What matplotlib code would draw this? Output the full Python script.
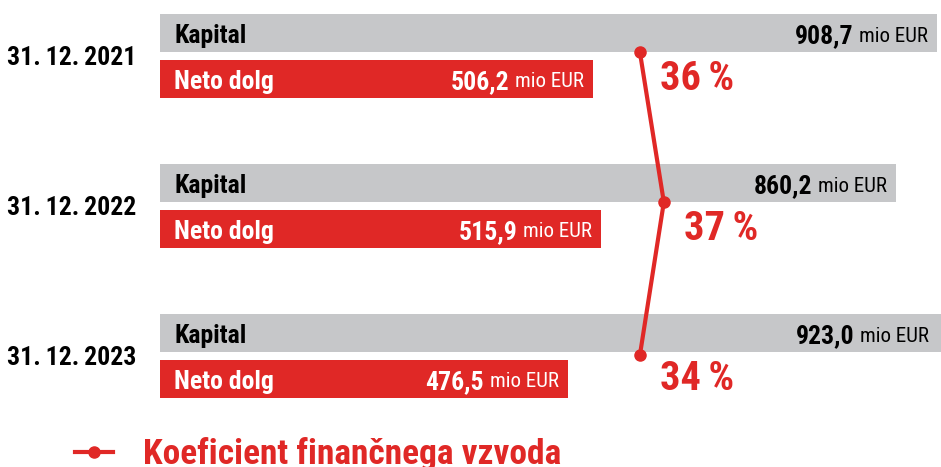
import matplotlib.pyplot as plt

# Podatki
datumi = ['31.\u200912.\u20092021', '31.\u200912.\u20092022', '31.\u200912.\u20092023']
kapital = [908.7, 860.2, 923.0]
neto_dolg = [506.2, 515.9, 476.5]
koeficient = [36, 37, 34]
# polozaj tock koeficienta na osi (mio EUR), odcitano s slike
koef_x = [561, 589, 561]

SIVA = '#C6C7C9'
RDECA = '#E02826'
FONT = ['Roboto Condensed', 'DejaVu Sans']

plt.rcParams['font.family'] = FONT


def fmt(v):
    return f"{v:.1f}".replace('.', ',')


fig = plt.figure(figsize=(9.41, 4.67), dpi=100)
ax = fig.add_axes([160 / 941, 0, 781 / 941, 1])
ax.set_xlim(0, 913)
ax.set_ylim(2.74, -0.373)
ax.axis('off')

h = 0.255
off = 0.153
y_kap = [i - off for i in range(len(datumi))]
y_dolg = [i + off for i in range(len(datumi))]

ax.barh(y_kap, kapital, height=h, color=SIVA)
ax.barh(y_dolg, neto_dolg, height=h, color=RDECA)

# Crta koeficienta
y_tocke = [y + h / 2 for y in y_kap]
y_tocke[-1] += 0.02
ax.plot(koef_x, y_tocke, color=RDECA, lw=3, marker='o', ms=8,
        label='Koeficient finančnega vzvoda', clip_on=False, zorder=5)

fig.canvas.draw()
renderer = fig.canvas.get_renderer()


def vrednost(x, y, v, barva):
    t = ax.annotate('mio EUR', (x, y), xytext=(-9, -3), textcoords='offset pixels',
                    ha='right', va='center', fontsize=15, color=barva)
    w = t.get_window_extent(renderer).width
    ax.annotate(fmt(v), (x, y), xytext=(-9 - w - 6, -3), textcoords='offset pixels',
                ha='right', va='center', fontsize=18.5, fontweight='bold', color=barva)


for i, d in enumerate(datumi):
    ax.annotate(d, (0, i), xytext=(-24, -2), textcoords='offset pixels',
                ha='right', va='center', fontsize=18.5, fontweight='bold', color='black')
    ax.annotate('Kapital', (0, y_kap[i]), xytext=(14, -3), textcoords='offset pixels',
                ha='left', va='center', fontsize=18.5, fontweight='bold', color='black')
    ax.annotate('Neto dolg', (0, y_dolg[i]), xytext=(14, -3), textcoords='offset pixels',
                ha='left', va='center', fontsize=18.5, fontweight='bold', color='white')
    vrednost(min(kapital[i], ax.get_xlim()[1] - 3), y_kap[i], kapital[i], 'black')
    vrednost(neto_dolg[i], y_dolg[i], neto_dolg[i], 'white')
    ax.annotate(f"{koeficient[i]}\u2009%", (koef_x[i], y_dolg[i]), xytext=(20, 0),
                textcoords='offset pixels', ha='left', va='center',
                fontsize=29, fontweight='bold', color=RDECA)

# Legenda
leg = ax.legend(loc='center left', bbox_to_anchor=(75 / 941, 13 / 467),
                bbox_transform=fig.transFigure, frameon=False,
                handlelength=1.07, handletextpad=0.85, borderpad=0, borderaxespad=0,
                prop={'size': 25.5, 'weight': 'bold', 'family': FONT})
for t in leg.get_texts():
    t.set_color(RDECA)

fig.savefig('out.png', dpi=100)
